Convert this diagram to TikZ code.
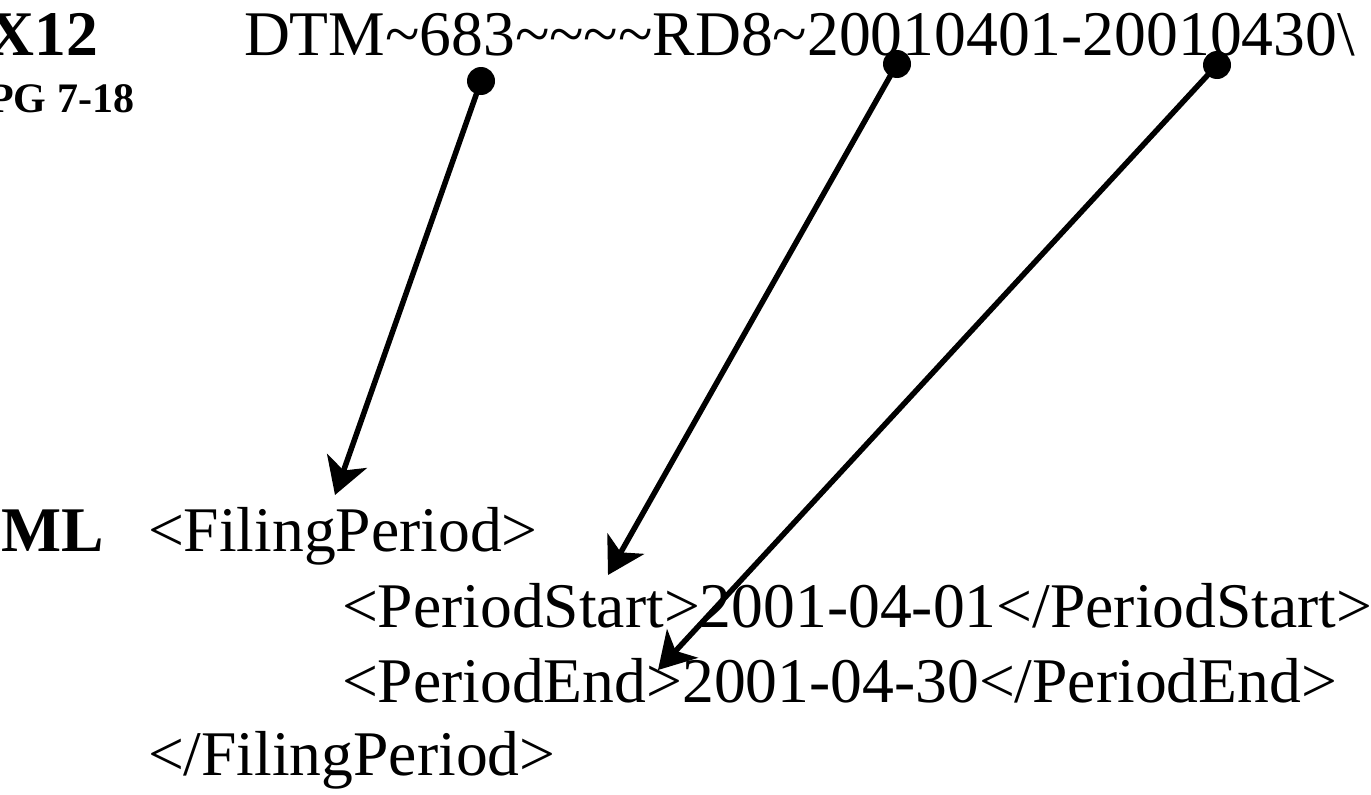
\documentclass[tikz,border=0pt]{standalone}
\usepackage{fontspec}
\setmainfont{Liberation Serif}
\usetikzlibrary{arrows.meta}
\tikzset{
  txt/.style={inner sep=0pt, outer sep=0pt, font=\fontsize{63.6}{70}\selectfont},
  lbl/.style={inner sep=0pt, outer sep=0pt, font=\fontsize{63.6}{70}\selectfont\bfseries},
  sublbl/.style={inner sep=0pt, outer sep=0pt, font=\fontsize{42}{48}\selectfont\bfseries},
  dotnode/.style={circle, fill=black, inner sep=0pt, minimum size=28pt},
  conn/.style={line width=5.5pt, -{Stealth[length=36pt,width=42pt,inset=10pt]}}
}
\begin{document}
\begin{tikzpicture}[x=1pt,y=-1pt]
\useasboundingbox (0,0) rectangle (1371,795);
% labels
\node[lbl, anchor=base east] (x12) at (98,55) {X12};
\node[sublbl, anchor=base east] (pg) at (134,112) {PG 7-18};
\node[lbl, anchor=base east] (xml) at (104,551) {ML};
% X12 segment
\node[txt, anchor=base west] (seg) at (244,55) {DTM\textasciitilde683\textasciitilde\textasciitilde\textasciitilde\textasciitilde RD8\textasciitilde20010401-20010430\textbackslash};
% XML lines
\node[txt, anchor=base west] (l1) at (148,551) {<FilingPeriod>};
\node[txt, anchor=base west] (l2) at (342,627) {<PeriodStart>2001-04-01</PeriodStart>};
\node[txt, anchor=base west] (l3) at (342,702) {<PeriodEnd>2001-04-30</PeriodEnd>};
\node[txt, anchor=base west] (l4) at (148,775) {</FilingPeriod>};
% dots
\node[dotnode] (d1) at (481,81) {};
\node[dotnode] (d2) at (897,64) {};
\node[dotnode] (d3) at (1217,65) {};
% tips
\coordinate (t1) at (335,495);
\coordinate (t2) at (608,575);
\coordinate (t3) at (658,670);
% connectors
\draw[conn] (d1.center) -- (t1);
\draw[conn] (d2.center) -- (t2);
\draw[conn] (d3.center) -- (t3);
\end{tikzpicture}
\end{document}
